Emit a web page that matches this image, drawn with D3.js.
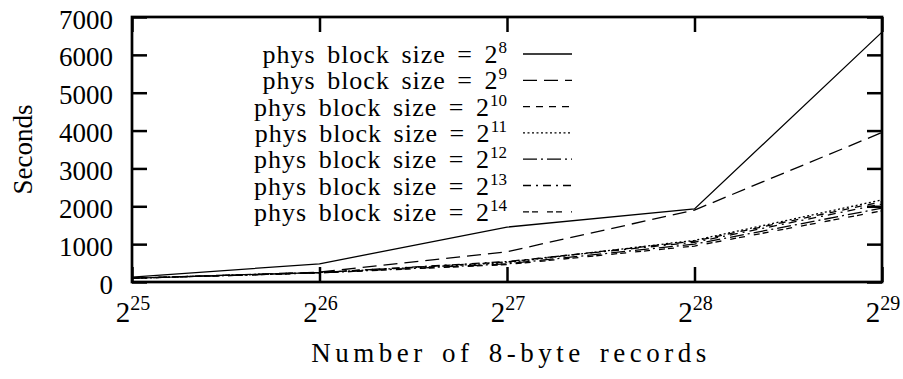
<!DOCTYPE html>
<html><head><meta charset="utf-8">
<script src="https://cdn.jsdelivr.net/npm/d3@7"></script>
<style>
html,body{margin:0;padding:0;background:#fff;}
svg text{font-family:"Liberation Serif","DejaVu Serif","Times New Roman",Tinos,serif !important;fill:#000;}
</style></head>
<body><div id="chart"></div>
<script>
const xExponents = [25, 26, 27, 28, 29];
const yTicks = [0, 1000, 2000, 3000, 4000, 5000, 6000, 7000];
const blockExponents = [8, 9, 10, 11, 12, 13, 14];
const s8  = [130, 480, 1450, 1930, 6600];
const s9  = [100, 260, 800, 1900, 3950];
const s10 = [100, 250, 530, 1080, 2120];
const s11 = [100, 250, 510, 1100, 2170];
const s12 = [100, 240, 480, 1000, 1950];
const s13 = [100, 250, 540, 1050, 2060];
const s14 = [100, 240, 460, 950, 1880];
const seriesValues = [s8, s9, s10, s11, s12, s13, s14];
const dashes = ["none", "14,7", "7,6", "2,2.5", "14,4,2,4", "8,5,2,5", "6,3,6,9"];

const W = 903, H = 379;
const m = {l: 132, r: 21, t: 17, b: 97};
const FONT = "'Liberation Serif', 'DejaVu Serif', serif";
const svg = d3.select("#chart").append("svg").attr("width", W).attr("height", H)
  .attr("font-family", FONT);

const x = d3.scaleLog().base(2).domain([2 ** 25, 2 ** 29]).range([m.l, W - m.r]);
const y = d3.scaleLinear().domain([0, 7000]).range([H - m.b, m.t]);

const FS = 27;
const tickLen = 15;

const line = d3.line().x((d, i) => x(2 ** xExponents[i])).y(d => y(d));
seriesValues.forEach((vals, k) => {
  svg.append("path").datum(vals)
    .attr("d", line)
    .attr("fill", "none")
    .attr("stroke", "#000")
    .attr("stroke-width", 1.3)
    .attr("stroke-dasharray", dashes[k]);
});

const yAxisL = d3.axisLeft(y).tickValues(yTicks).tickSize(-tickLen).tickFormat(d => d);
const gl = svg.append("g").attr("transform", `translate(${m.l},0)`).call(yAxisL);
gl.attr("font-family", FONT).attr("font-size", FS);
gl.select(".domain").remove();
gl.selectAll(".tick line").attr("stroke-width", 2.5);
gl.selectAll(".tick text").attr("font-size", FS).attr("font-family", FONT)
  .attr("x", -19).attr("dy", null).attr("y", 11).attr("fill", "#000");

const yAxisR = d3.axisRight(y).tickValues(yTicks).tickSize(-tickLen).tickFormat("");
const gr = svg.append("g").attr("transform", `translate(${W - m.r},0)`).call(yAxisR);
gr.select(".domain").remove();
gr.selectAll(".tick line").attr("stroke-width", 2.5);

const xAxisB = d3.axisBottom(x).tickValues(xExponents.map(e => 2 ** e)).tickSize(-tickLen).tickFormat("");
const gb = svg.append("g").attr("transform", `translate(0,${H - m.b})`).call(xAxisB);
gb.select(".domain").remove();
gb.selectAll(".tick line").attr("stroke-width", 2.5);

const xAxisT = d3.axisTop(x).tickValues(xExponents.map(e => 2 ** e)).tickSize(-tickLen).tickFormat("");
const gt = svg.append("g").attr("transform", `translate(0,${m.t})`).call(xAxisT);
gt.select(".domain").remove();
gt.selectAll(".tick line").attr("stroke-width", 2.5);

xExponents.forEach(e => {
  const t = svg.append("text").attr("x", x(2 ** e) + 1).attr("y", H - m.b + 40)
    .attr("text-anchor", "middle").attr("font-size", 29);
  t.append("tspan").text("2");
  t.append("tspan").attr("font-size", 20).attr("dy", -12).text(e);
});

svg.append("rect").attr("x", m.l).attr("y", m.t)
  .attr("width", W - m.r - m.l).attr("height", H - m.b - m.t)
  .attr("fill", "none").attr("stroke", "#000").attr("stroke-width", 2.7);

svg.append("text").attr("transform", `translate(32,${(m.t + H - m.b) / 2}) rotate(-90)`)
  .attr("text-anchor", "middle").attr("font-size", FS).text("Seconds");
svg.append("text").attr("x", 511).attr("y", 362).attr("text-anchor", "middle")
  .attr("font-size", FS).attr("letter-spacing", 4.5).attr("word-spacing", 4).text("Number of 8-byte records");

blockExponents.forEach((e, k) => {
  const ly = 54 + k * 26.3;
  const t = svg.append("text").attr("x", 507).attr("y", ly + 9)
    .attr("text-anchor", "end").attr("font-size", 26)
    .attr("letter-spacing", 1).attr("word-spacing", 4);
  t.append("tspan").text("phys block size = 2");
  t.append("tspan").attr("font-size", 17).attr("dy", -10).attr("letter-spacing", 0).text(e);
  svg.append("line").attr("x1", 523).attr("x2", 572).attr("y1", ly).attr("y2", ly)
    .attr("stroke", "#000").attr("stroke-width", 1.3).attr("stroke-dasharray", dashes[k]);
});
</script></body></html>
